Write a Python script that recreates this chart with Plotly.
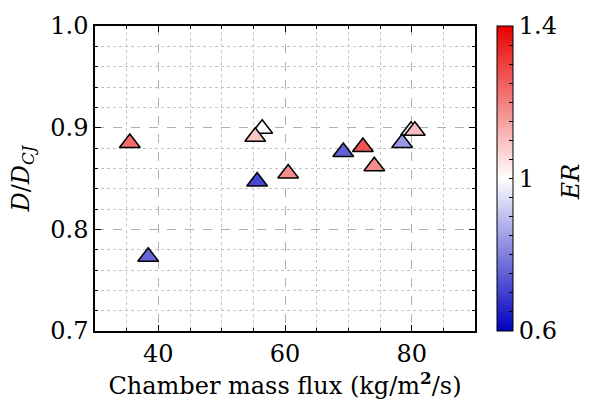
import plotly.graph_objects as go

# Data (chamber mass flux, D/D_CJ, equivalence ratio)
mass_flux = [35.5, 38.4, 56.4, 55.3, 55.6, 60.5, 69.2, 72.3, 74.1, 79.9, 80.5, 78.5]
d_ratio   = [0.885, 0.773, 0.899, 0.891, 0.847, 0.855, 0.876, 0.881, 0.862, 0.897, 0.897, 0.885]
er        = [1.23, 0.76, 1.00, 1.09, 0.71, 1.18, 0.75, 1.27, 1.18, 1.02, 1.10, 0.84]

cbar_ticks = [0.6 + 0.05 * i for i in range(17)]
cbar_text = ["0.6" if abs(v - 0.6) < 1e-6 else "1" if abs(v - 1.0) < 1e-6 else "1.4" if abs(v - 1.4) < 1e-6 else "" for v in cbar_ticks]

FONT = "'DejaVu Serif', 'Liberation Serif', serif"
FS = 24

bwr = [[0.0, "rgb(0,0,190)"], [0.5, "rgb(255,255,255)"], [1.0, "rgb(232,0,0)"]]

fig = go.Figure()
fig.add_trace(go.Scatter(
    x=mass_flux, y=d_ratio, mode="markers",
    marker=dict(
        symbol="triangle-up", size=18,
        color=er, colorscale=bwr, cmin=0.6, cmax=1.4,
        line=dict(color="black", width=1.5),
        colorbar=dict(
            x=1.032, xanchor="left", xref="paper",
            y=0.5, yanchor="middle", len=1.0, lenmode="fraction", ypad=0,
            thickness=16, outlinecolor="black", outlinewidth=1,
            tickvals=cbar_ticks, ticktext=cbar_text,
            ticks="inside", ticklen=4, tickcolor="black",
            tickfont=dict(family=FONT, size=FS, color="black"),
        ),
    ),
    showlegend=False,
))

fig.add_annotation(
    text="<i>ER</i>", xref="paper", yref="paper", x=1.252, y=0.49,
    xanchor="center", yanchor="middle", textangle=-90, showarrow=False,
    font=dict(family=FONT, size=FS, color="black"),
)

grid_col = "#b0b0b0"
fig.update_xaxes(
    range=[30, 90], tick0=0, dtick=20,
    showline=True, linecolor="black", linewidth=1.5, mirror="ticks",
    ticks="inside", ticklen=6, tickwidth=1.3, tickcolor="black",
    showgrid=True, gridcolor=grid_col, griddash="dash", gridwidth=1,
    zeroline=False,
    minor=dict(dtick=5, ticks="inside", ticklen=3.5, tickcolor="black",
               showgrid=True, gridcolor="#c4c4c4", griddash="dot", gridwidth=1),
    tickfont=dict(family=FONT, size=FS, color="black"),
    title=dict(text="Chamber mass flux (kg/m<sup><b>2</b></sup>/s)",
               font=dict(family=FONT, size=FS, color="black"), standoff=8),
)
fig.update_yaxes(
    range=[0.7, 1.0], tick0=0.7, dtick=0.1, tickformat=".1f",
    showline=True, linecolor="black", linewidth=1.5, mirror="ticks",
    ticks="inside", ticklen=6, tickwidth=1.3, tickcolor="black",
    showgrid=True, gridcolor=grid_col, griddash="dash", gridwidth=1,
    zeroline=False,
    minor=dict(dtick=0.02, tick0=0.7, ticks="inside", ticklen=3.5, tickcolor="black",
               showgrid=True, gridcolor="#c4c4c4", griddash="dot", gridwidth=1),
    tickfont=dict(family=FONT, size=FS, color="black"),
    title=dict(text="<i>D</i>/<i>D</i><sub><i>CJ</i></sub>",
               font=dict(family=FONT, size=FS, color="black"), standoff=14),
)

fig.update_layout(
    width=591, height=406,
    margin=dict(l=95, r=116, t=23, b=75),
    paper_bgcolor="white", plot_bgcolor="white",
    font=dict(family=FONT, color="black"),
)

fig.write_html("out.html")
